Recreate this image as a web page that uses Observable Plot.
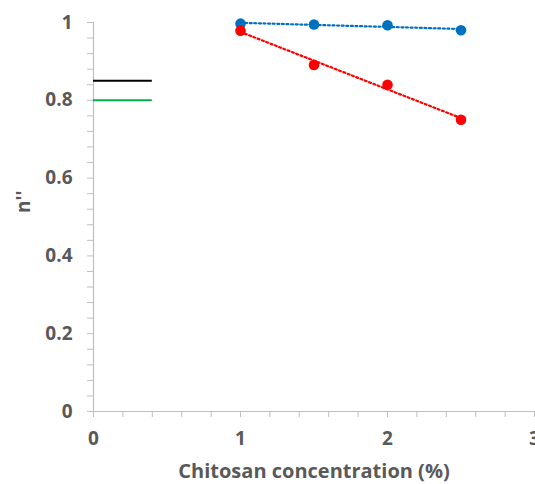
<!DOCTYPE html>
<html><head><meta charset="utf-8">
<script src="https://cdn.jsdelivr.net/npm/d3@7"></script>
<script src="https://cdn.jsdelivr.net/npm/@observablehq/plot@0.6"></script>
<style>body{margin:0;background:#fff;overflow:hidden}</style></head>
<body><div id="chart"></div>
<script>
const concentrations = [1, 1.5, 2, 2.5];
const seriesBlue = [0.997, 0.995, 0.993, 0.980];
const seriesRed = [0.979, 0.891, 0.840, 0.750];
const refLevels = [0.85, 0.80];
const refColors = ["#000000", "#00b050"];
const refXEnd = 0.4;
const yMajorTicks = [0, 0.2, 0.4, 0.6, 0.8, 1];
const yMinorTicks = [0,0.04,0.08,0.12,0.16,0.2,0.24,0.28,0.32,0.36,0.4,0.44,0.48,0.52,0.56,0.6,0.64,0.68,0.72,0.76,0.8,0.84,0.88,0.92,0.96,1];
const xMajorTicks = [0, 1, 2, 3];
const xMinorTicks = [0,0.2,0.4,0.6,0.8,1,1.2,1.4,1.6,1.8,2,2.2,2.4,2.6,2.8,3];
const xTitle = "Chitosan concentration (%)";
const yTitle = "n''";

const blue = concentrations.map((x, i) => ({x, y: seriesBlue[i]}));
const red = concentrations.map((x, i) => ({x, y: seriesRed[i]}));
const refs = refLevels.map((y, i) => ({y, c: refColors[i]}));

const axisGray = "#bfbfbf";
const textGray = "#595959";

const chart = Plot.plot({
  width: 535, height: 484,
  marginLeft: 93, marginRight: 1, marginTop: 22, marginBottom: 73,
  style: {fontFamily: "'Open Sans', sans-serif", fontSize: "19px", fontWeight: "bold", color: textGray, overflow: "visible", background: "#fff"},
  x: {domain: [0, 3]},
  y: {domain: [0, 1]},
  marks: [
    Plot.axisY({ticks: yMinorTicks, tickSize: 6, tickFormat: () => "", stroke: axisGray, label: null}),
    Plot.axisY({ticks: yMajorTicks, tickSize: 0, tickPadding: 21, tickFormat: d => String(d), fill: textGray, fontSize: 19, fontWeight: "bold", label: null}),
    Plot.axisX({ticks: xMinorTicks, tickSize: 6, tickFormat: () => "", stroke: axisGray, label: null}),
    Plot.axisX({ticks: xMajorTicks, tickSize: 0, tickPadding: 20, tickFormat: d => String(d), fill: textGray, fontSize: 19, fontWeight: "bold", label: null}),
    Plot.ruleX([0], {stroke: axisGray, strokeWidth: 1.2}),
    Plot.ruleY([0], {stroke: axisGray, strokeWidth: 1.2}),
    Plot.ruleY(refs, {y: "y", x1: 0, x2: refXEnd, stroke: "c", strokeWidth: 2}),
    Plot.linearRegressionY(blue, {x: "x", y: "y", stroke: "#0070c0", strokeWidth: 2.2, ci: 0}),
    Plot.linearRegressionY(red, {x: "x", y: "y", stroke: "#ff0000", strokeWidth: 2.2, ci: 0}),
    Plot.dot(blue, {x: "x", y: "y", r: 5.3, fill: "#0070c0"}),
    Plot.dot(red, {x: "x", y: "y", r: 5.3, fill: "#ff0000"}),
    Plot.text([xTitle], {frameAnchor: "bottom", dy: 60, fontSize: 20, fontWeight: "bold", fill: textGray, lineAnchor: "middle"}),
    Plot.text([yTitle], {frameAnchor: "left", dx: -70, dy: -4, rotate: -90, fontSize: 19, fontWeight: "bold", fill: textGray})
  ]
});
d3.select(chart).selectAll("g[aria-label='linear-regression'] path").attr("stroke-dasharray", "2,2.6");
document.getElementById("chart").appendChild(chart);
</script></body></html>
